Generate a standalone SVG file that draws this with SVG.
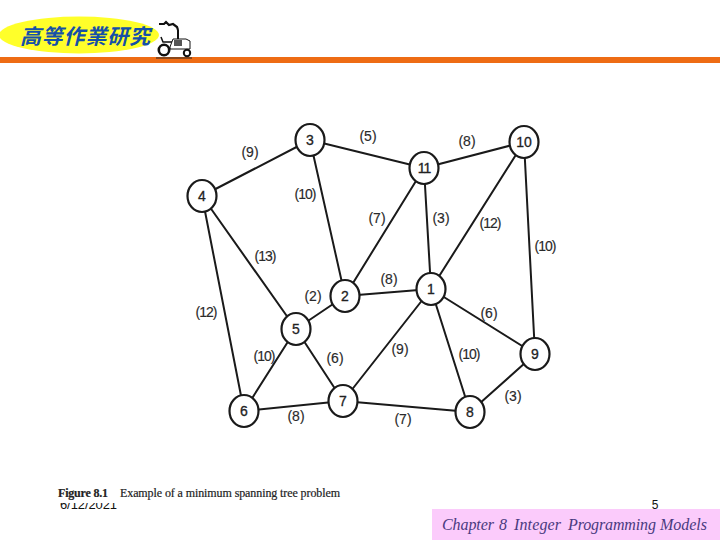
<svg xmlns="http://www.w3.org/2000/svg" width="720" height="540" viewBox="0 0 720 540">
<style>
.e{stroke:#1a1a1a;stroke-width:2;fill:none}
.n ellipse{fill:#fff;stroke:#1a1a1a;stroke-width:2.2}
.n text{font:14px "Liberation Sans",sans-serif;text-anchor:middle;fill:#222;stroke:#222;stroke-width:.3}
.w{font:14px "Liberation Sans",sans-serif;text-anchor:middle;fill:#2a2a2a;stroke:#2a2a2a;stroke-width:.15}
.d{letter-spacing:-1px}
</style>
<rect width="720" height="540" fill="#fff"/>
<g id="header">
<ellipse cx="79" cy="35" rx="80" ry="18.500" fill="#ffff2a"/>
<rect x="0" y="57" width="720" height="6" fill="#ee6c14"/>
<text x="85" y="44" font-family="'Noto Sans CJK TC',sans-serif" font-size="21" font-weight="700" font-style="italic" fill="#1550a8" text-anchor="middle" textLength="130" lengthAdjust="spacing">高等作業研究</text>
<g id="tractor" fill="none" stroke="#111">
<path d="M159 24l5 0 2-2 3 3 4-1 4 3 1 3" stroke-width="2.200"/>
<path d="M178 30V42" stroke-width="2"/>
<path d="M161 37l2 5h12" stroke-width="1.500"/>
<path d="M170 47l3-8h13l4 2v8h-20z" fill="#fff" stroke-width="1"/>
<rect x="174" y="40" width="8" height="6" fill="#555" stroke="none"/>
<circle cx="164" cy="50" r="5.200" stroke-width="2.600" fill="#fff"/>
<circle cx="187" cy="53" r="3.200" stroke-width="2" fill="#fff"/>
<path d="M156 58H192" stroke-width="1.200" stroke="#222"/>
</g>
</g>
<g id="connectors">
<path class="e" d="M202 196L310 140M310 140L345 296M310 140L424 168M424 168L524 142M424 168L345 296M424 168L431 289M524 142L431 289M524 142L535 354M202 196L296 329M202 196L244 411M345 296L296 329M345 296L431 289M431 289L535 354M431 289L470 412M431 289L343 401M296 329L244 411M296 329L343 401M244 411L343 401M343 401L470 412M470 412L535 354"/>
</g>
<g class="n" id="node-3"><ellipse cx="310" cy="140" rx="14.500" ry="16"/><text x="310" y="145">3</text></g>
<g class="n" id="node-4"><ellipse cx="202" cy="196" rx="14.500" ry="16"/><text x="202" y="201">4</text></g>
<g class="n" id="node-11"><ellipse cx="424" cy="168" rx="14.500" ry="16"/><text x="424" y="173" class="d">11</text></g>
<g class="n" id="node-10"><ellipse cx="524" cy="142" rx="14.500" ry="16"/><text x="524" y="147">10</text></g>
<g class="n" id="node-2"><ellipse cx="345" cy="296" rx="14.500" ry="16"/><text x="345" y="301">2</text></g>
<g class="n" id="node-1"><ellipse cx="431" cy="289" rx="14.500" ry="16"/><text x="431" y="294">1</text></g>
<g class="n" id="node-5"><ellipse cx="296" cy="329" rx="14.500" ry="16"/><text x="296" y="334">5</text></g>
<g class="n" id="node-9"><ellipse cx="535" cy="354" rx="14.500" ry="16"/><text x="535" y="359">9</text></g>
<g class="n" id="node-6"><ellipse cx="244" cy="411" rx="14.500" ry="16"/><text x="244" y="416">6</text></g>
<g class="n" id="node-7"><ellipse cx="343" cy="401" rx="14.500" ry="16"/><text x="343" y="406">7</text></g>
<g class="n" id="node-8"><ellipse cx="470" cy="412" rx="14.500" ry="16"/><text x="470" y="417">8</text></g>
<g id="weights">
<text class="w" x="250" y="157">(9)</text>
<text class="w" x="368" y="141">(5)</text>
<text class="w" x="467" y="146">(8)</text>
<text class="w d" x="305" y="199">(10)</text>
<text class="w" x="377" y="223">(7)</text>
<text class="w" x="441" y="223">(3)</text>
<text class="w d" x="490" y="228">(12)</text>
<text class="w d" x="545" y="251">(10)</text>
<text class="w d" x="265" y="261">(13)</text>
<text class="w" x="389" y="284">(8)</text>
<text class="w" x="313" y="301">(2)</text>
<text class="w d" x="206" y="317">(12)</text>
<text class="w" x="489" y="318">(6)</text>
<text class="w d" x="264" y="361">(10)</text>
<text class="w" x="335" y="363">(6)</text>
<text class="w" x="400" y="354">(9)</text>
<text class="w d" x="469" y="359">(10)</text>
<text class="w" x="513" y="401">(3)</text>
<text class="w" x="296" y="421">(8)</text>
<text class="w" x="403" y="424">(7)</text>
</g>
<text x="60" y="509" font-family="'Liberation Sans',sans-serif" font-size="13" fill="#111" textLength="57">6/12/2021</text>
<rect x="50" y="480" width="300" height="23" fill="#fff"/>
<text y="497" font-family="'Liberation Serif',serif" font-size="12" fill="#222" stroke="#222" stroke-width=".2"><tspan x="58" font-weight="700" textLength="50">Figure 8.1</tspan><tspan x="120" textLength="220">Example of a minimum spanning tree problem</tspan></text>
<text x="655" y="509" font-family="'Liberation Sans',sans-serif" font-size="12" fill="#111" text-anchor="middle">5</text>
<rect x="432" y="509" width="288" height="31" fill="#fbcbfb"/>
<text y="530" font-family="'Liberation Serif',serif" font-size="16" font-style="italic" fill="#4a3a80"><tspan x="442" textLength="52">Chapter</tspan><tspan x="499">8</tspan><tspan x="514" textLength="47">Integer</tspan><tspan x="568" textLength="88">Programming</tspan><tspan x="660" textLength="47">Models</tspan></text>
</svg>
